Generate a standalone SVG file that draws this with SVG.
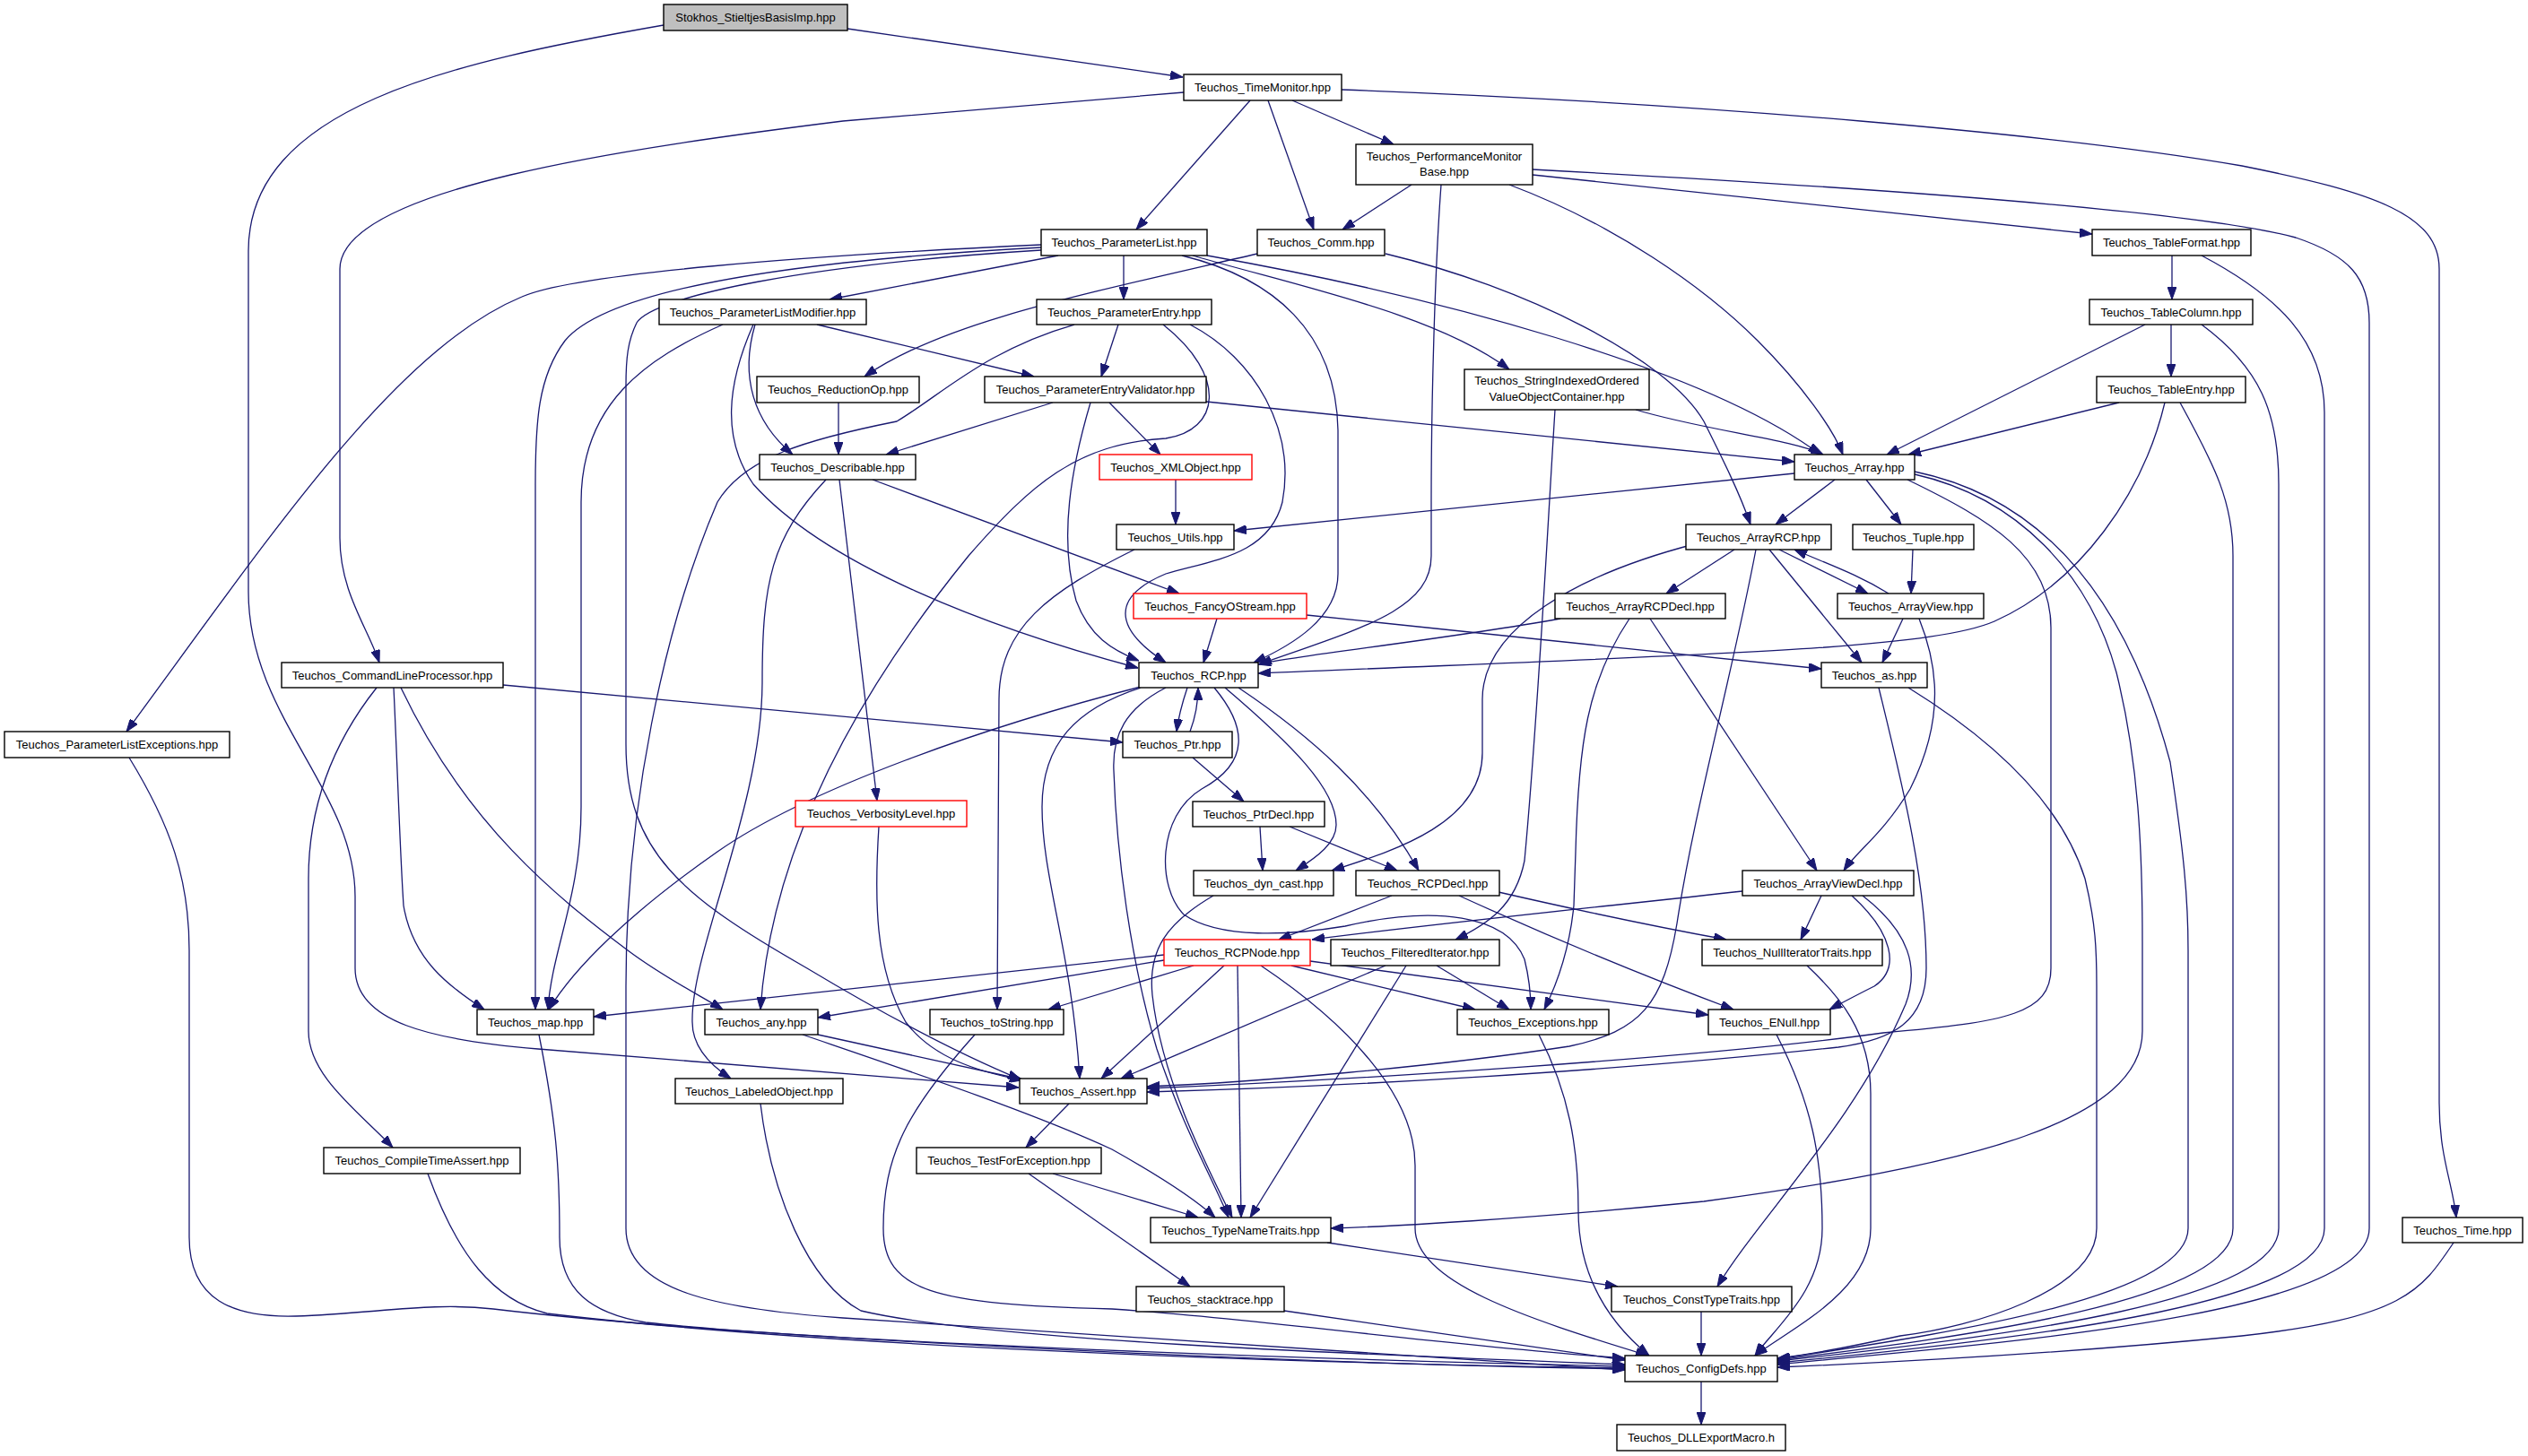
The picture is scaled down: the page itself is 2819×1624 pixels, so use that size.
<svg xmlns="http://www.w3.org/2000/svg" width="2819" height="1624" viewBox="0 0 2819 1624">
<defs>
<marker id="ah" markerUnits="userSpaceOnUse" markerWidth="14" markerHeight="10" viewBox="0 0 14 10" refX="14" refY="5" orient="auto">
<path d="M0,0 L14,5 L0,10 z" fill="#191970" stroke="#191970" stroke-width="1"/>
</marker>
</defs>
<style>
.n rect{fill:#ffffff;stroke:#000000;stroke-width:1.4}
.r rect{stroke:#ff0000}
.g rect{fill:#bfbfbf}
text{font-family:"Liberation Sans",Arial,Helvetica,sans-serif;font-size:13px;text-anchor:middle;fill:#000000}
#edges path{fill:none;stroke:#191970;stroke-width:1.3;marker-end:url(#ah)}
</style>
<rect x="0" y="0" width="2819" height="1624" fill="#ffffff"/>
<g id="edges">
<path d="M945,32 L1319,86"/>
<path d="M740,28 C500,70 277,120 277,280 L277,660 C277,800 396,880 396,1000 L396,1080 C396,1140 480,1160 600,1170 L1136,1213"/>
<path d="M1320,103 L940,135 C700,165 379,210 379,300 L379,600 C379,660 410,700 423,739"/>
<path d="M1394,112 L1267,256"/>
<path d="M1414,112 L1465,256"/>
<path d="M1441,112 L1554,161"/>
<path d="M1496,100 C1900,115 2300,150 2500,185 C2650,215 2720,240 2720,300 L2720,1230 C2720,1290 2735,1320 2739,1358"/>
<path d="M1574,206 L1497,256"/>
<path d="M1607,206 C1600,300 1596,450 1596,560 L1596,620 C1596,680 1520,700 1404,741"/>
<path d="M1683,206 C1800,250 1900,320 1960,380 C2010,430 2045,480 2055,507"/>
<path d="M1709,195 L2333,261"/>
<path d="M1709,189 C2100,210 2450,235 2560,265 C2620,285 2642,310 2642,360 L2642,1370 C2642,1470 2200,1500 1982,1522"/>
<path d="M1161,273 C900,285 640,305 582,331 C440,390 300,600 141,816"/>
<path d="M1161,276 C900,290 680,320 630,380 C600,420 597,470 597,541 L597,1126"/>
<path d="M1161,279 C900,295 730,330 710,360 C700,380 698,400 698,430 L698,830 C698,950 760,1000 900,1080 C1000,1140 1080,1180 1138,1204"/>
<path d="M1180,285 L925,334"/>
<path d="M1253,285 L1253,334"/>
<path d="M1318,285 C1420,310 1490,370 1492,480 L1492,640 C1492,690 1440,720 1398,739"/>
<path d="M1330,285 C1450,320 1600,350 1683,412"/>
<path d="M1346,285 C1600,330 1900,410 2030,507"/>
<path d="M1402,283 C1200,330 1050,360 964,420"/>
<path d="M1545,283 C1700,320 1860,400 1900,470 C1920,510 1940,550 1952,585"/>
<path d="M911,362 L1153,420"/>
<path d="M842,362 C825,420 840,470 884,507"/>
<path d="M806,362 C720,400 648,450 648,560 L648,900 C648,1000 615,1060 611,1126"/>
<path d="M840,362 C810,430 805,490 840,540 C920,630 1100,700 1269,745"/>
<path d="M1247,362 L1228,420"/>
<path d="M1198,362 C1100,390 1050,440 1000,470 C900,490 830,510 800,560 C740,700 698,900 698,1100 L698,1370 C698,1440 800,1460 940,1470 L1812,1528"/>
<path d="M1297,362 C1370,420 1360,480 1300,489 C1200,495 1150,540 1080,620 C950,780 860,950 848,1126"/>
<path d="M1327,362 C1400,400 1445,480 1430,560 C1415,620 1350,625 1300,640 C1240,665 1240,700 1300,739"/>
<path d="M1174,449 L988,507"/>
<path d="M1216,449 C1195,520 1180,600 1200,670 C1215,710 1240,725 1270,737"/>
<path d="M1237,449 L1294,507"/>
<path d="M1345,448 L2001,515"/>
<path d="M935,449 L935,507"/>
<path d="M1824,457 C1900,480 2000,490 2033,507"/>
<path d="M1734,457 C1725,600 1715,800 1700,960 C1690,1010 1660,1030 1623,1048"/>
<path d="M2422,285 L2422,334"/>
<path d="M2455,285 C2540,330 2592,380 2592,460 L2592,1370 C2592,1450 2300,1490 1982,1520"/>
<path d="M2392,362 L2104,507"/>
<path d="M2421,362 L2421,420"/>
<path d="M2455,362 C2520,410 2541,460 2541,540 L2541,1370 C2541,1450 2250,1490 1982,1518"/>
<path d="M2363,449 L2128,507"/>
<path d="M2414,449 C2390,550 2320,650 2224,693 C2150,725 1900,730 1403,751"/>
<path d="M2431,449 C2470,520 2490,560 2490,620 L2490,1370 C2490,1450 2200,1490 1982,1517"/>
<path d="M936,535 L978,893"/>
<path d="M973,535 L1315,662"/>
<path d="M921,535 C860,600 850,650 850,760 C850,900 770,1060 772,1140 C772,1170 795,1190 815,1203"/>
<path d="M1311,535 L1311,585"/>
<path d="M2001,528 L1376,592"/>
<path d="M2046,535 L1980,585"/>
<path d="M2081,535 L2120,585"/>
<path d="M2127,535 C2220,580 2287,620 2287,700 L2287,1080 C2287,1130 2240,1140 2100,1152 C1900,1180 1500,1205 1279,1214"/>
<path d="M2135,529 C2250,555 2330,640 2360,750 C2385,850 2389,950 2389,1050 L2389,1150 C2389,1250 2200,1300 1900,1340 C1700,1360 1550,1368 1484,1370"/>
<path d="M2135,526 C2300,560 2380,700 2420,850 C2435,950 2440,1000 2440,1060 L2440,1370 C2440,1450 2150,1490 1982,1516"/>
<path d="M1265,613 C1170,660 1114,700 1114,780 L1112,1126"/>
<path d="M1934,613 L1858,662"/>
<path d="M1893,606 C1760,640 1653,700 1653,780 L1653,840 C1653,920 1550,950 1485,971"/>
<path d="M1984,613 L2083,662"/>
<path d="M2106,662 C2070,640 2040,630 2001,613"/>
<path d="M1973,613 L2076,739"/>
<path d="M1958,613 C1930,760 1890,900 1870,1030 C1855,1120 1830,1150 1750,1167 C1600,1190 1400,1207 1279,1212"/>
<path d="M2133,613 L2131,662"/>
<path d="M2122,690 L2099,739"/>
<path d="M2140,690 C2160,740 2170,800 2130,880 C2100,930 2070,950 2056,971"/>
<path d="M1740,690 C1600,715 1450,730 1403,741"/>
<path d="M1817,690 C1770,760 1760,830 1757,950 L1755,1010 C1750,1060 1735,1100 1722,1126"/>
<path d="M1840,690 L2026,971"/>
<path d="M1357,690 L1342,739"/>
<path d="M1457,686 L2031,746"/>
<path d="M1324,767 C1318,785 1314,800 1312,816"/>
<path d="M1327,816 C1333,800 1336,785 1336,767"/>
<path d="M1272,766 C1100,810 900,880 800,950 C700,1020 640,1080 612,1126"/>
<path d="M1272,767 C1200,790 1162,830 1162,900 C1162,980 1195,1060 1204,1203"/>
<path d="M1300,767 C1255,790 1240,820 1242,860 C1245,950 1260,1070 1290,1170 C1320,1260 1350,1310 1370,1358"/>
<path d="M1366,767 C1440,830 1490,880 1490,920 C1490,940 1470,955 1445,971"/>
<path d="M1381,767 C1460,820 1530,880 1582,971"/>
<path d="M1354,767 C1390,810 1395,850 1340,880 C1290,910 1290,990 1320,1020 C1360,1048 1440,1043 1500,1033 C1600,1010 1680,1020 1700,1070 C1705,1090 1707,1110 1707,1126"/>
<path d="M1330,845 L1387,894"/>
<path d="M1405,922 L1408,971"/>
<path d="M1438,922 L1558,971"/>
<path d="M1353,999 C1300,1030 1280,1060 1285,1110 C1295,1200 1340,1290 1374,1358"/>
<path d="M1552,999 L1426,1048"/>
<path d="M1627,999 C1750,1055 1850,1095 1933,1126"/>
<path d="M1671,995 C1780,1020 1870,1038 1925,1048"/>
<path d="M1943,994 C1800,1010 1600,1030 1463,1048"/>
<path d="M2031,999 L2008,1048"/>
<path d="M2065,999 C2110,1040 2120,1080 2090,1100 C2070,1110 2055,1118 2040,1126"/>
<path d="M2077,999 C2130,1040 2140,1080 2125,1120 C2070,1250 1960,1360 1915,1435"/>
<path d="M1298,1065 L662,1134"/>
<path d="M1298,1071 L912,1135"/>
<path d="M1331,1077 L1169,1126"/>
<path d="M1365,1077 L1228,1203"/>
<path d="M1380,1077 L1384,1358"/>
<path d="M1406,1077 C1500,1140 1578,1220 1578,1300 L1578,1370 C1578,1430 1700,1470 1838,1512"/>
<path d="M1440,1077 L1645,1126"/>
<path d="M1461,1072 L1905,1132"/>
<path d="M1545,1077 L1250,1203"/>
<path d="M1568,1077 L1394,1358"/>
<path d="M1602,1077 L1683,1126"/>
<path d="M2015,1077 C2050,1110 2086,1150 2086,1220 L2086,1370 C2086,1440 2000,1480 1957,1512"/>
<path d="M1716,1154 C1750,1220 1760,1280 1760,1350 C1760,1430 1800,1480 1839,1512"/>
<path d="M1981,1154 C2020,1230 2032,1290 2032,1370 C2032,1440 1980,1480 1957,1512"/>
<path d="M1087,1154 C1010,1240 985,1290 985,1370 C985,1440 1040,1455 1240,1460 C1400,1470 1600,1500 1812,1515"/>
<path d="M848,1231 C860,1330 900,1430 960,1462 C1100,1495 1500,1510 1812,1522"/>
<path d="M601,1154 C620,1250 624,1300 624,1380 C624,1440 660,1465 720,1475 C900,1495 1400,1515 1812,1524"/>
<path d="M477,1309 C510,1400 550,1450 610,1465 C900,1500 1400,1520 1812,1526"/>
<path d="M144,845 C190,920 211,980 211,1060 L211,1380 C211,1450 260,1470 330,1468 C420,1465 480,1452 550,1460 C800,1490 1400,1520 1812,1527"/>
<path d="M1432,1462 L1812,1517"/>
<path d="M1897,1463 L1897,1512"/>
<path d="M1897,1541 L1897,1589"/>
<path d="M2736,1386 C2700,1440 2680,1470 2500,1490 C2300,1510 2100,1520 1982,1525"/>
<path d="M2095,767 C2120,870 2148,980 2148,1080 C2148,1140 2110,1160 2050,1168 C1800,1195 1500,1212 1279,1218"/>
<path d="M2128,767 C2230,830 2300,900 2325,980 C2337,1030 2338,1060 2338,1100 L2338,1370 C2338,1440 2200,1480 2119,1490 C2050,1505 2010,1512 1982,1515"/>
<path d="M912,1154 L1140,1204"/>
<path d="M895,1154 C1000,1190 1150,1240 1240,1282 C1290,1310 1330,1335 1355,1358"/>
<path d="M1192,1231 L1144,1280"/>
<path d="M1174,1309 L1336,1358"/>
<path d="M1147,1309 L1327,1435"/>
<path d="M1480,1386 L1804,1435"/>
<path d="M980,922 C975,1000 975,1080 1010,1140 C1040,1180 1090,1195 1140,1205"/>
<path d="M561,764 L1252,828"/>
<path d="M439,767 C443,850 446,950 450,1010 C460,1070 500,1100 540,1126"/>
<path d="M447,767 C520,920 620,1000 700,1060 C740,1090 780,1110 806,1126"/>
<path d="M420,767 C370,830 344,900 344,980 L344,1150 C344,1200 400,1240 438,1280"/>
</g>
<g id="stokhos" class="n g"><rect x="740" y="5" width="205" height="29"/><text x="842.5" y="24">Stokhos_StieltjesBasisImp.hpp</text></g>
<g id="timemonitor" class="n"><rect x="1320" y="83" width="176" height="29"/><text x="1408" y="102">Teuchos_TimeMonitor.hpp</text></g>
<g id="perfmon" class="n"><rect x="1512" y="161" width="197" height="45"/><text x="1610.5" y="178.5">Teuchos_PerformanceMonitor</text><text x="1610.5" y="196">Base.hpp</text></g>
<g id="paramlist" class="n"><rect x="1161" y="256" width="185" height="29"/><text x="1253.5" y="275">Teuchos_ParameterList.hpp</text></g>
<g id="comm" class="n"><rect x="1402" y="256" width="142" height="29"/><text x="1473" y="275">Teuchos_Comm.hpp</text></g>
<g id="tableformat" class="n"><rect x="2333" y="256" width="177" height="29"/><text x="2421.5" y="275">Teuchos_TableFormat.hpp</text></g>
<g id="plmodifier" class="n"><rect x="735" y="334" width="231" height="28"/><text x="850.5" y="352.5">Teuchos_ParameterListModifier.hpp</text></g>
<g id="paramentry" class="n"><rect x="1156" y="334" width="195" height="28"/><text x="1253.5" y="352.5">Teuchos_ParameterEntry.hpp</text></g>
<g id="tablecolumn" class="n"><rect x="2330" y="334" width="182" height="28"/><text x="2421" y="352.5">Teuchos_TableColumn.hpp</text></g>
<g id="reductionop" class="n"><rect x="844" y="420" width="181" height="29"/><text x="934.5" y="439">Teuchos_ReductionOp.hpp</text></g>
<g id="pev" class="n"><rect x="1098" y="420" width="247" height="29"/><text x="1221.5" y="439">Teuchos_ParameterEntryValidator.hpp</text></g>
<g id="sioc" class="n"><rect x="1633" y="412" width="206" height="45"/><text x="1736" y="429">Teuchos_StringIndexedOrdered</text><text x="1736" y="447">ValueObjectContainer.hpp</text></g>
<g id="tableentry" class="n"><rect x="2338" y="420" width="166" height="29"/><text x="2421" y="439">Teuchos_TableEntry.hpp</text></g>
<g id="describable" class="n"><rect x="847" y="507" width="174" height="28"/><text x="934" y="525.5">Teuchos_Describable.hpp</text></g>
<g id="xmlobject" class="n r"><rect x="1226" y="507" width="170" height="28"/><text x="1311" y="525.5">Teuchos_XMLObject.hpp</text></g>
<g id="array" class="n"><rect x="2001" y="507" width="134" height="28"/><text x="2068" y="525.5">Teuchos_Array.hpp</text></g>
<g id="utils" class="n"><rect x="1245" y="585" width="131" height="28"/><text x="1310.5" y="603.5">Teuchos_Utils.hpp</text></g>
<g id="arrayrcp" class="n"><rect x="1880" y="585" width="162" height="28"/><text x="1961" y="603.5">Teuchos_ArrayRCP.hpp</text></g>
<g id="tuple" class="n"><rect x="2066" y="585" width="135" height="28"/><text x="2133.5" y="603.5">Teuchos_Tuple.hpp</text></g>
<g id="fancy" class="n r"><rect x="1264" y="662" width="193" height="28"/><text x="1360.5" y="680.5">Teuchos_FancyOStream.hpp</text></g>
<g id="arrayrcpdecl" class="n"><rect x="1734" y="662" width="190" height="28"/><text x="1829" y="680.5">Teuchos_ArrayRCPDecl.hpp</text></g>
<g id="arrayview" class="n"><rect x="2049" y="662" width="163" height="28"/><text x="2130.5" y="680.5">Teuchos_ArrayView.hpp</text></g>
<g id="clp" class="n"><rect x="314" y="739" width="247" height="28"/><text x="437.5" y="757.5">Teuchos_CommandLineProcessor.hpp</text></g>
<g id="rcp" class="n"><rect x="1270" y="739" width="133" height="28"/><text x="1336.5" y="757.5">Teuchos_RCP.hpp</text></g>
<g id="as" class="n"><rect x="2031" y="739" width="118" height="28"/><text x="2090" y="757.5">Teuchos_as.hpp</text></g>
<g id="ple" class="n"><rect x="5" y="816" width="251" height="29"/><text x="130.5" y="835">Teuchos_ParameterListExceptions.hpp</text></g>
<g id="ptr" class="n"><rect x="1252" y="816" width="122" height="29"/><text x="1313" y="835">Teuchos_Ptr.hpp</text></g>
<g id="verbosity" class="n r"><rect x="887" y="893" width="191" height="29"/><text x="982.5" y="912">Teuchos_VerbosityLevel.hpp</text></g>
<g id="ptrdecl" class="n"><rect x="1330" y="894" width="147" height="28"/><text x="1403.5" y="912.5">Teuchos_PtrDecl.hpp</text></g>
<g id="dyncast" class="n"><rect x="1331" y="971" width="156" height="28"/><text x="1409" y="989.5">Teuchos_dyn_cast.hpp</text></g>
<g id="rcpdecl" class="n"><rect x="1512" y="971" width="160" height="28"/><text x="1592" y="989.5">Teuchos_RCPDecl.hpp</text></g>
<g id="arrayviewdecl" class="n"><rect x="1943" y="971" width="191" height="28"/><text x="2038.5" y="989.5">Teuchos_ArrayViewDecl.hpp</text></g>
<g id="rcpnode" class="n r"><rect x="1298" y="1048" width="163" height="29"/><text x="1379.5" y="1067">Teuchos_RCPNode.hpp</text></g>
<g id="filtered" class="n"><rect x="1484" y="1048" width="188" height="29"/><text x="1578" y="1067">Teuchos_FilteredIterator.hpp</text></g>
<g id="nulliter" class="n"><rect x="1898" y="1048" width="201" height="29"/><text x="1998.5" y="1067">Teuchos_NullIteratorTraits.hpp</text></g>
<g id="map" class="n"><rect x="532" y="1126" width="130" height="28"/><text x="597" y="1144.5">Teuchos_map.hpp</text></g>
<g id="any" class="n"><rect x="786" y="1126" width="126" height="28"/><text x="849" y="1144.5">Teuchos_any.hpp</text></g>
<g id="tostring" class="n"><rect x="1037" y="1126" width="149" height="28"/><text x="1111.5" y="1144.5">Teuchos_toString.hpp</text></g>
<g id="exceptions" class="n"><rect x="1625" y="1126" width="169" height="28"/><text x="1709.5" y="1144.5">Teuchos_Exceptions.hpp</text></g>
<g id="enull" class="n"><rect x="1905" y="1126" width="136" height="28"/><text x="1973" y="1144.5">Teuchos_ENull.hpp</text></g>
<g id="labeled" class="n"><rect x="753" y="1203" width="187" height="28"/><text x="846.5" y="1221.5">Teuchos_LabeledObject.hpp</text></g>
<g id="assert" class="n"><rect x="1137" y="1203" width="142" height="28"/><text x="1208" y="1221.5">Teuchos_Assert.hpp</text></g>
<g id="compiletime" class="n"><rect x="361" y="1280" width="219" height="29"/><text x="470.5" y="1299">Teuchos_CompileTimeAssert.hpp</text></g>
<g id="testforexc" class="n"><rect x="1022" y="1280" width="206" height="29"/><text x="1125" y="1299">Teuchos_TestForException.hpp</text></g>
<g id="typename" class="n"><rect x="1283" y="1358" width="201" height="28"/><text x="1383.5" y="1376.5">Teuchos_TypeNameTraits.hpp</text></g>
<g id="time" class="n"><rect x="2679" y="1358" width="134" height="28"/><text x="2746" y="1376.5">Teuchos_Time.hpp</text></g>
<g id="stacktrace" class="n"><rect x="1267" y="1435" width="165" height="28"/><text x="1349.5" y="1453.5">Teuchos_stacktrace.hpp</text></g>
<g id="consttype" class="n"><rect x="1797" y="1435" width="201" height="28"/><text x="1897.5" y="1453.5">Teuchos_ConstTypeTraits.hpp</text></g>
<g id="configdefs" class="n"><rect x="1812" y="1512" width="170" height="29"/><text x="1897" y="1531">Teuchos_ConfigDefs.hpp</text></g>
<g id="dllexport" class="n"><rect x="1803" y="1589" width="188" height="29"/><text x="1897" y="1608">Teuchos_DLLExportMacro.h</text></g>
</svg>
